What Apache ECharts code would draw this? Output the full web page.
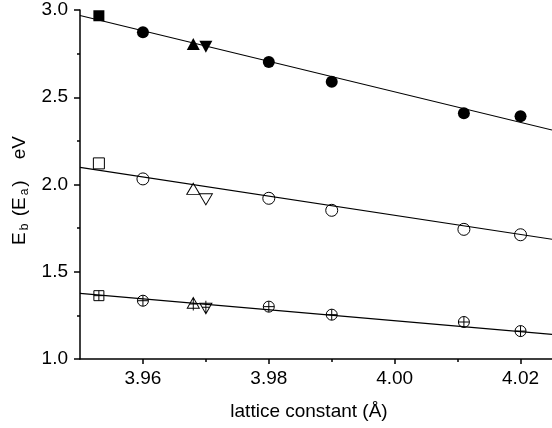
<!DOCTYPE html>
<html>
<head>
<meta charset="utf-8">
<script src="https://cdn.jsdelivr.net/npm/echarts@6/dist/echarts.min.js"></script>
<style>html,body{margin:0;padding:0;background:#fff;}#c{width:552px;height:428px;}</style>
</head>
<body>
<div id="c"></div>
<script>
// lattice constant (Å) of each point
const latticeX = [3.953, 3.960, 3.968, 3.970, 3.980, 3.990, 4.011, 4.020];
// marker kind of each point
const markerKind = ['square', 'circle', 'up', 'down', 'circle', 'circle', 'circle', 'circle'];
// filled markers (upper set)
const energyTop = [2.967, 2.872, 2.805, 2.790, 2.702, 2.589, 2.408, 2.391];
// open markers (middle set)
const energyMid = [2.121, 2.032, 1.975, 1.915, 1.921, 1.852, 1.743, 1.712];
// crossed markers (lower set)
const energyBot = [1.363, 1.334, 1.315, 1.296, 1.300, 1.254, 1.212, 1.160];
// fitted straight lines: endpoints
const fitX = [3.95, 4.025];
const fitTop = [2.968, 2.312];
const fitMid = [2.098, 1.686];
const fitBot = [1.376, 1.141];
// ticks
const xMajorTicks = [3.96, 3.98, 4.00, 4.02];
const xMinorTicks = [3.97, 3.99, 4.01];
const yMajorTicks = [1.0, 1.5, 2.0, 2.5, 3.0];
const yMinorTicks = [1.25, 1.75, 2.25, 2.75];

const FONT = '"Liberation Sans", Arial, sans-serif';

const filledSym = {
  square: {symbol: 'rect', size: 11, rot: 0},
  circle: {symbol: 'circle', size: 12, rot: 0},
  up: {symbol: 'triangle', size: [13, 12], rot: 0},
  down: {symbol: 'triangle', size: [13, 12], rot: 180}
};
const openSym = {
  square: {symbol: 'rect', size: 11, rot: 0},
  circle: {symbol: 'circle', size: 12, rot: 0},
  up: {symbol: 'triangle', size: [13, 11], rot: 0},
  down: {symbol: 'triangle', size: [13, 11], rot: 180}
};
const crossSym = {
  square: {symbol: 'path://M0,0L20,0L20,20L0,20ZM10,0L10,20M0,10L20,10', size: 10, rot: 0},
  circle: {symbol: 'path://M10,0A10,10,0,1,1,10,20A10,10,0,1,1,10,0ZM10,0L10,20M0,10L20,10', size: 11, rot: 0},
  up: {symbol: 'path://M10,0L20,18L0,18ZM10,0L10,22M4,11L16,11', size: [12, 13], rot: 0},
  down: {symbol: 'path://M10,0L20,18L0,18ZM10,0L10,22M4,11L16,11', size: [12, 13], rot: 180}
};

function pts(ys, table) {
  return latticeX.map((x, i) => {
    const s = table[markerKind[i]];
    return {value: [x, ys[i]], symbol: s.symbol, symbolSize: s.size, symbolRotate: s.rot};
  });
}
function fit(ys) {
  return fitX.map((x, i) => [x, ys[i]]);
}

const lineSeries = (ys) => ({
  type: 'line', data: fit(ys), showSymbol: false, symbol: 'none', silent: true,
  lineStyle: {color: '#000', width: 1.1}, z: 1
});

const chart = echarts.init(document.getElementById('c'), null, {renderer: 'canvas'});
chart.setOption({
  animation: false,
  backgroundColor: '#fff',
  grid: {left: 80, right: 0, top: 10, bottom: 69, containLabel: false, outerBoundsMode: 'none'},
  xAxis: [{
    type: 'value', min: 3.95, max: 4.025, position: 'bottom',
    name: 'lattice constant (Å)', nameLocation: 'middle', nameGap: 43,
    nameTextStyle: {fontFamily: FONT, fontSize: 19, color: '#000', padding: [0, 14, 0, 0]},
    axisLine: {show: true, lineStyle: {color: '#000', width: 1.5}},
    axisTick: {show: true, inside: false, length: 5, customValues: xMajorTicks, lineStyle: {color: '#000', width: 1.5}},
    axisLabel: {show: true, customValues: xMajorTicks, margin: 10, fontFamily: FONT, fontSize: 19, color: '#000',
      formatter: v => v.toFixed(2)},
    splitLine: {show: false}
  }, {
    type: 'value', min: 3.95, max: 4.025, position: 'bottom',
    axisLine: {show: false},
    axisTick: {show: true, length: 3, customValues: xMinorTicks, lineStyle: {color: '#000', width: 1.5}},
    axisLabel: {show: false},
    splitLine: {show: false}
  }],
  yAxis: [{
    type: 'value', min: 1.0, max: 3.0, position: 'left',
    name: 'E{sub|b} (E{sub|a})    eV', nameLocation: 'middle', nameGap: 50, nameRotate: 90,
    nameTextStyle: {fontFamily: FONT, fontSize: 19, color: '#000', padding: [0, 12, 0, 0],
      rich: {sub: {fontFamily: FONT, fontSize: 12, color: '#000', padding: [0, 2, -9, 2]}}},
    axisLine: {show: true, lineStyle: {color: '#000', width: 1.5}},
    axisTick: {show: true, length: 6, customValues: yMajorTicks, lineStyle: {color: '#000', width: 1.5}},
    axisLabel: {show: true, customValues: yMajorTicks, margin: 12, fontFamily: FONT, fontSize: 19, color: '#000',
      formatter: v => v.toFixed(1)},
    splitLine: {show: false}
  }, {
    type: 'value', min: 1.0, max: 3.0, position: 'left',
    axisLine: {show: false},
    axisTick: {show: true, length: 3, customValues: yMinorTicks, lineStyle: {color: '#000', width: 1.5}},
    axisLabel: {show: false},
    splitLine: {show: false}
  }],
  series: [
    lineSeries(fitTop), lineSeries(fitMid), lineSeries(fitBot),
    {type: 'scatter', data: pts(energyTop, filledSym), z: 3,
      itemStyle: {color: '#000', opacity: 1}},
    {type: 'scatter', data: pts(energyMid, openSym), z: 3,
      itemStyle: {color: 'rgba(255,255,255,0)', borderColor: '#000', borderWidth: 1, opacity: 1}},
    {type: 'scatter', data: pts(energyBot, crossSym), z: 3,
      itemStyle: {color: 'rgba(255,255,255,0)', borderColor: '#000', borderWidth: 1, opacity: 1}}
  ]
});
</script>
</body>
</html>
